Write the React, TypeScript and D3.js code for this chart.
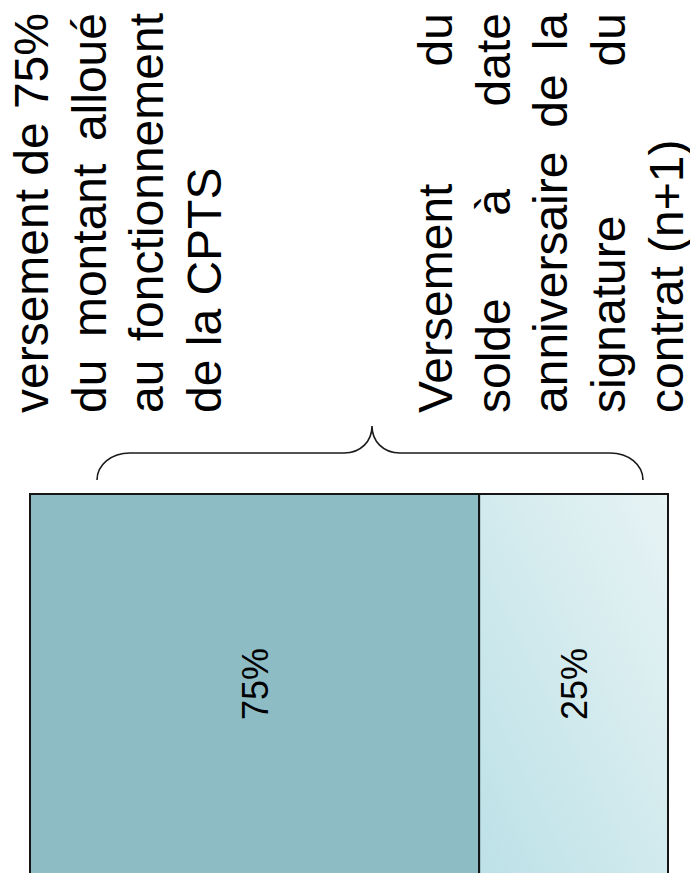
import React, { useMemo } from "react";
import * as d3 from "d3";

// ---- data ----
const segmentLabels: string[] = ["75%", "25%"];
const segmentShares: number[] = [70.4, 29.6]; // drawn proportions
const paragraphOne: string[] = [
  "versement de 75%",
  "du montant alloué",
  "au fonctionnement",
  "de la CPTS",
];
const paragraphTwo: string[] = [
  "Versement du",
  "solde à date",
  "anniversaire de la",
  "signature du",
  "contrat (n+1)",
];

const W = 690;
const H = 873;
const FONT = "'Liberation Sans', Arial, Helvetica, sans-serif";
const TEXT_SIZE = 48;
const LINE_STEP = 57.7;
const FIRST_BASELINE = 48;
const TEXT_START = 413; // screen y where each line starts (text runs upward)
const TEXT_LEN = 400;
const BAR_LEFT = 30;
const BAR_RIGHT = 668;
const BAR_TOP = 494;
const BAR_BOTTOM = 874;

function useMeasure() {
  return useMemo(() => {
    const c = document.createElement("canvas");
    const ctx = c.getContext("2d")!;
    ctx.font = `${TEXT_SIZE}px ${FONT}`;
    return (s: string) => ctx.measureText(s).width;
  }, []);
}

type Line = { text: string; row: number; last: boolean };

export default function App() {
  const measure = useMeasure();

  const lines: Line[] = [
    ...paragraphOne.map((t, i) => ({ text: t, row: i, last: i === paragraphOne.length - 1 })),
    ...paragraphTwo.map((t, i) => ({ text: t, row: i + 7, last: i === paragraphTwo.length - 1 })),
  ];

  const total = d3.sum(segmentShares);
  const x = d3.scaleLinear().domain([0, total]).range([BAR_LEFT, BAR_RIGHT]);
  const starts = d3.cumsum([0, ...segmentShares.slice(0, -1)]);
  const segs = segmentShares.map((v, i) => ({
    label: segmentLabels[i],
    x0: x(starts[i]),
    x1: x(starts[i] + v),
  }));

  const brace = d3.path();
  brace.moveTo(97, 480);
  brace.bezierCurveTo(97, 465, 111, 453, 130, 453);
  brace.lineTo(344, 453);
  brace.bezierCurveTo(361, 453, 372, 441, 372, 426);
  brace.bezierCurveTo(372, 441, 383, 453, 400, 453);
  brace.lineTo(610, 453);
  brace.bezierCurveTo(629, 453, 643, 465, 643, 480);

  const space = measure(" ");

  return (
    <svg
      width={W}
      height={H}
      viewBox={`0 0 ${W} ${H}`}
      style={{ position: "fixed", left: 0, top: 0, background: "#fff" }}
    >
      <defs>
        <linearGradient id="light" x1="0" y1="1" x2="1" y2="0">
          <stop offset="0" stopColor="#bce1e7" />
          <stop offset="1" stopColor="#e7f3f4" />
        </linearGradient>
      </defs>

      {/* text lines, rotated */}
      {lines.map((ln, li) => {
        const words = ln.text.split(" ");
        const widths = words.map((w) => measure(w));
        const sumW = d3.sum(widths);
        const gap =
          ln.last || words.length < 2 ? space : (TEXT_LEN - sumW) / (words.length - 1);
        let pos = 0;
        const placed = words.map((w, i) => {
          const p = pos;
          pos += widths[i] + gap;
          return { w, p };
        });
        const bx = FIRST_BASELINE + ln.row * LINE_STEP;
        return (
          <g key={li} transform={`translate(${bx},${TEXT_START}) rotate(-90)`}>
            {placed.map((pw, i) => (
              <text
                key={i}
                x={pw.p}
                y={0}
                fontFamily={FONT}
                fontSize={TEXT_SIZE}
                fill="#000"
              >
                {pw.w}
              </text>
            ))}
          </g>
        );
      })}

      {/* brace */}
      <path d={brace.toString()} fill="none" stroke="#1a1a1a" strokeWidth={1.6} />

      {/* stacked bar */}
      {segs.map((s, i) => (
        <rect
          key={i}
          x={s.x0}
          y={BAR_TOP}
          width={s.x1 - s.x0}
          height={BAR_BOTTOM - BAR_TOP}
          fill={i === 0 ? "#8dbcc5" : "url(#light)"}
          stroke="#151515"
          strokeWidth={2}
        />
      ))}
      {segs.map((s, i) => (
        <g
          key={"l" + i}
          transform={`translate(${(s.x0 + s.x1) / 2},${(BAR_TOP + BAR_BOTTOM) / 2}) rotate(-90)`}
        >
          <text
            x={0}
            y={0}
            dy="0.36em"
            textAnchor="middle"
            fontFamily={FONT}
            fontSize={36}
            fill="#000"
          >
            {s.label}
          </text>
        </g>
      ))}
    </svg>
  );
}
